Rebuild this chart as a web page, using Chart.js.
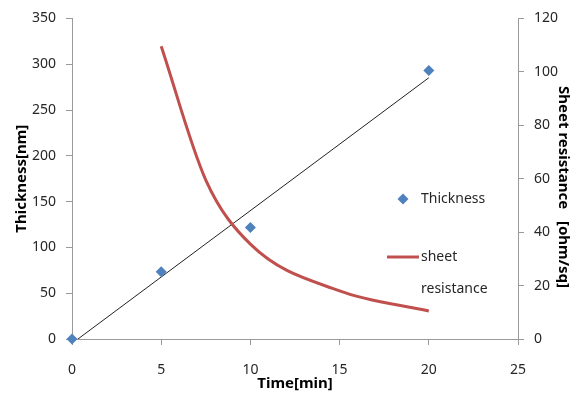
<!DOCTYPE html>
<html>
<head>
<meta charset="utf-8">
<script src="https://cdn.jsdelivr.net/npm/chart.js@4/dist/chart.umd.min.js"></script>
<style>
    html, body { margin: 0; padding: 0; background: #fff; }
    #wrap { width: 579px; height: 398px; position: relative; }
</style>
</head>
<body>
<div id="wrap"><canvas id="chart" width="579" height="398"></canvas></div>
<script>
// ================= DATA =================
const timeMin = [0, 5, 10, 20];
const thicknessNm = [0, 73.5, 121.7, 293];

// linear trend line of thickness (end points)
const trendTime = [0, 20];
const trendNm = [-4.85, 285.2];

const resTime = [5, 7.5, 10, 15, 20];
const resOhm = [109.6, 59.5, 35.5, 18, 10.5];

const xTicks = [0, 5, 10, 15, 20, 25];
const yTicks = [0, 50, 100, 150, 200, 250, 300, 350];
const y1Ticks = [0, 20, 40, 60, 80, 100, 120];

const BLUE = "#4F81BD";
const RED = "#C0504D";
const AXIS = "#9a9a9a";
const TXT = "#262626";
const FONT = "'Noto Sans', 'DejaVu Sans', sans-serif";

const toXY = (xs, ys) => xs.map((x, i) => ({ x: x, y: ys[i] }));

// ================= LEGEND + RIGHT TITLE =================
const legendPlugin = {
    id: "sideLegend",
    afterDraw(chart) {
        const ctx = chart.ctx;
        ctx.save();
        // diamond
        ctx.fillStyle = BLUE;
        ctx.beginPath();
        ctx.moveTo(403, 193.5);
        ctx.lineTo(408.5, 199);
        ctx.lineTo(403, 204.5);
        ctx.lineTo(397.5, 199);
        ctx.closePath();
        ctx.fill();
        // red line
        ctx.strokeStyle = RED;
        ctx.lineWidth = 3;
        ctx.beginPath();
        ctx.moveTo(387, 257);
        ctx.lineTo(419, 257);
        ctx.stroke();
        // texts
        ctx.fillStyle = TXT;
        ctx.font = "14px " + FONT;
        ctx.textBaseline = "middle";
        ctx.textAlign = "left";
        ctx.fillText("Thickness", 421, 199);
        ctx.fillText("sheet", 421, 257);
        ctx.fillText("resistance", 421, 289);

        // right axis title, reads top to bottom
        ctx.translate(563, 187);
        ctx.rotate(Math.PI / 2);
        ctx.fillStyle = "#000";
        ctx.font = "bold 15px " + FONT;
        ctx.textAlign = "center";
        ctx.fillText("Sheet resistance   [ohm/sq]", 0, 0);
        ctx.restore();
    }
};

const ctx = document.getElementById("chart").getContext("2d");

new Chart(ctx, {
    type: "scatter",
    data: {
        datasets: [
            {
                label: "Thickness",
                data: toXY(timeMin, thicknessNm),
                yAxisID: "y",
                pointStyle: "rectRot",
                pointRadius: 5.5,
                pointBackgroundColor: BLUE,
                pointBorderColor: BLUE,
                pointBorderWidth: 0,
                showLine: false,
                clip: false,
                order: 0
            },
            {
                label: "trend",
                data: toXY(trendTime, trendNm),
                yAxisID: "y",
                showLine: true,
                borderColor: "#222",
                borderWidth: 1,
                pointRadius: 0,
                order: 2
            },
            {
                label: "sheet resistance",
                data: toXY(resTime, resOhm),
                yAxisID: "y1",
                showLine: true,
                borderColor: RED,
                borderWidth: 3,
                pointRadius: 0,
                cubicInterpolationMode: "monotone",
                order: 1
            }
        ]
    },
    options: {
        responsive: false,
        animation: false,
        layout: { padding: { top: 14, left: 0, right: 0, bottom: 0 } },
        plugins: {
            legend: { display: false },
            tooltip: { enabled: false }
        },
        scales: {
            x: {
                type: "linear",
                min: xTicks[0],
                max: xTicks[xTicks.length - 1],
                afterBuildTicks: s => { s.ticks = xTicks.map(v => ({ value: v })); },
                afterFit: s => { s.height = 59; },
                grid: { drawOnChartArea: false, drawTicks: true, tickLength: 6, color: AXIS },
                border: { display: true, color: AXIS },
                ticks: { color: TXT, font: { family: FONT, size: 14 }, padding: 17 },
                title: {
                    display: true,
                    text: "Time[min]",
                    color: "#000",
                    font: { family: FONT, size: 15, weight: "bold" },
                    padding: { top: 0, bottom: 5 }
                }
            },
            y: {
                position: "left",
                min: yTicks[0],
                max: yTicks[yTicks.length - 1],
                afterBuildTicks: s => { s.ticks = yTicks.map(v => ({ value: v })); },
                afterFit: s => { s.width = 72; },
                grid: { drawOnChartArea: false, drawTicks: true, tickLength: 6, color: AXIS },
                border: { display: true, color: AXIS },
                ticks: { color: TXT, font: { family: FONT, size: 14 }, padding: 10 },
                title: {
                    display: true,
                    text: "Thickness[nm]",
                    color: "#000",
                    font: { family: FONT, size: 15, weight: "bold" },
                    padding: { top: 13, bottom: 0 }
                }
            },
            y1: {
                position: "right",
                min: y1Ticks[0],
                max: y1Ticks[y1Ticks.length - 1],
                afterBuildTicks: s => { s.ticks = y1Ticks.map(v => ({ value: v })); },
                afterFit: s => { s.width = 61; },
                grid: { drawOnChartArea: false, drawTicks: true, tickLength: 6, color: AXIS },
                border: { display: true, color: AXIS },
                ticks: { color: TXT, font: { family: FONT, size: 14 }, padding: 10 },
                title: { display: false }
            }
        }
    },
    plugins: [legendPlugin]
});
</script>
</body>
</html>
